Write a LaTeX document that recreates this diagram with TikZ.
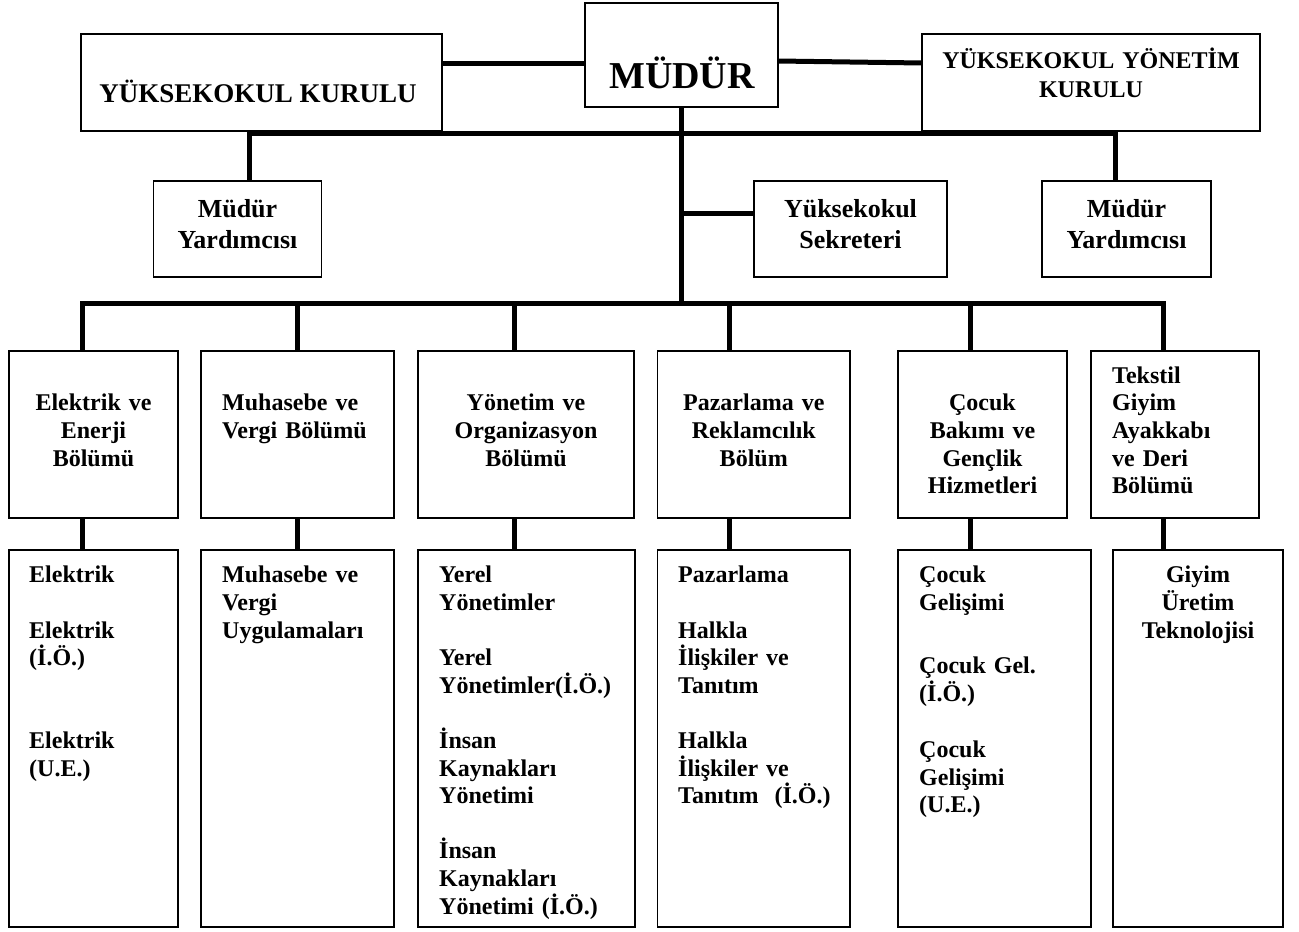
\documentclass[tikz,border=0pt]{standalone}
\usepackage{fontspec}
\setmainfont{Liberation Serif}
\usetikzlibrary{calc}

\newcommand{\bossfont}{\fontsize{38}{44}\selectfont\bfseries}
\newcommand{\kurfont}{\fontsize{27}{31}\selectfont\bfseries}
\newcommand{\midfont}{\fontsize{26}{31}\selectfont\bfseries}
\newcommand{\lowfont}{\fontsize{24}{27.6}\selectfont\bfseries}
\newcommand{\lnstrut}{\rule{0pt}{36pt}}

\begin{document}
\begin{tikzpicture}[x=1pt,y=-1pt,
  box/.style 2 args={draw, line width=1.6pt, inner sep=0pt, outer sep=0pt, minimum width=#1pt, minimum height=#2pt},
  link/.style={line width=5pt},
  ctxt/.style={inner sep=0pt, anchor=north, align=center, text width=#1, font=\lowfont},
  ltxt/.style={inner sep=0pt, anchor=north west, align=left, text width=#1, font=\lowfont}]
\useasboundingbox (0,0) rectangle (1299,932);

% top row
\node[box={193}{104}] (mudur) at (681.5,55) {};
\node[box={361}{97}] (yk) at (261.5,82.5) {};
\node[box={338}{97}] (yyk) at (1091,82.5) {};
\node[font=\bossfont, anchor=base, inner sep=0pt] (mudur-t) at (682,88) {MÜDÜR};
\node[font=\kurfont, anchor=base, inner sep=0pt] (yk-t) at (258,102) {YÜKSEKOKUL KURULU};
\node[ctxt=330pt, font=\fontsize{24}{29}\selectfont\bfseries] (yyk-t) at ($(yyk.north)+(0,-2)$) {\lnstrut YÜKSEKOKUL YÖNETİM\\KURULU};

% second row
\node[box={168}{96}] (my1) at (237.5,229) {};
\node[box={193}{96}] (sek) at (850.5,229) {};
\node[box={169}{96}] (my2) at (1126.5,229) {};
\node[ctxt=168pt, font=\midfont] (my1-t) at (my1.north) {\lnstrut Müdür\\Yardımcısı};
\node[ctxt=193pt, font=\midfont] (sek-t) at (sek.north) {\lnstrut Yüksekokul\\Sekreteri};
\node[ctxt=169pt, font=\midfont] (my2-t) at (my2.north) {\lnstrut Müdür\\Yardımcısı};

% departments
\node[box={169}{167}] (d1) at (93.5,434.5) {};
\node[box={193}{167}] (d2) at (297.5,434.5) {};
\node[box={216}{167}] (d3) at (526,434.5) {};
\node[box={192.5}{167}] (d4) at (753.75,434.5) {};
\node[box={169}{167}] (d5) at (982.5,434.5) {};
\node[box={168}{167}] (d6) at (1175,434.5) {};
\node[ctxt=169pt] (d1-t) at ($(d1.north)+(0,23.7)$) {\lnstrut Elektrik ve\\Enerji\\Bölümü};
\node[ltxt=170pt] (d2-t) at ($(d2.north west)+(21,23.7)$) {\lnstrut Muhasebe ve\\Vergi Bölümü};
\node[ctxt=216pt] (d3-t) at ($(d3.north)+(0,23.7)$) {\lnstrut Yönetim ve\\Organizasyon\\Bölümü};
\node[ctxt=192pt] (d4-t) at ($(d4.north)+(0,23.7)$) {\lnstrut Pazarlama ve\\Reklamcılık\\Bölüm};
\node[ctxt=169pt] (d5-t) at ($(d5.north)+(0,23.7)$) {\lnstrut Çocuk\\Bakımı ve\\Gençlik\\Hizmetleri};
\node[ltxt=145pt] (d6-t) at ($(d6.north west)+(21,-4)$) {\lnstrut Tekstil\\Giyim\\Ayakkabı\\ve Deri\\Bölümü};

% programmes
\node[box={169}{377}] (p1) at (93.5,738.5) {};
\node[box={193}{377}] (p2) at (297.5,738.5) {};
\node[box={217}{377}] (p3) at (526.5,738.5) {};
\node[box={192.5}{377}] (p4) at (753.75,738.5) {};
\node[box={193}{377}] (p5) at (994.5,738.5) {};
\node[box={170}{377}] (p6) at (1198,738.5) {};
\node[ltxt=145pt] (p1-t) at ($(p1.north west)+(20,-3.3)$) {\lnstrut Elektrik\\[27.6pt]Elektrik\\(İ.Ö.)\\[55.2pt]Elektrik\\(U.E.)};
\node[ltxt=170pt] (p2-t) at ($(p2.north west)+(21,-3.3)$) {\lnstrut Muhasebe ve\\Vergi\\Uygulamaları};
\node[ltxt=192pt] (p3-t) at ($(p3.north west)+(21,-3.3)$) {\lnstrut Yerel\\Yönetimler\\[27.6pt]Yerel\\Yönetimler(İ.Ö.)\\[27.6pt]İnsan\\Kaynakları\\Yönetimi\\[27.6pt]İnsan\\Kaynakları\\Yönetimi (İ.Ö.)};
\node[ltxt=170pt] (p4-t) at ($(p4.north west)+(20.5,-3.3)$) {\lnstrut Pazarlama\\[27.6pt]Halkla\\İlişkiler ve\\Tanıtım\\[27.6pt]Halkla\\İlişkiler ve\\Tanıtım~~(İ.Ö.)};
\node[ltxt=170pt] (p5-t) at ($(p5.north west)+(21,-3.3)$) {\lnstrut Çocuk\\Gelişimi\\[35.7pt]Çocuk Gel.\\(İ.Ö.)\\[28.7pt]Çocuk\\Gelişimi\\(U.E.)};
\node[ctxt=170pt] (p6-t) at ($(p6.north)+(0,-3.3)$) {\lnstrut Giyim\\Üretim\\Teknolojisi};

% links
\draw[link] ([yshift=19.5pt]yk.east) -- ([yshift=19.5pt]yk.east -| mudur.west);
\draw[link] ([yshift=-6pt]mudur.east) -- ([yshift=19.5pt]yyk.west);
\coordinate (u1) at (249,133);
\coordinate (u2) at (1115,133);
\draw[link] (u1 |- my1.north) -- (u1) -- (u2) -- (u2 |- my2.north);
\draw[link] ($(mudur.south |- sek.west)+(0,-16)$) -- ($(sek.west)+(0,-16)$);
\foreach \i/\bx in {1/82,2/297.5,3/514.5,4/729,5/970,6/1163}
  \coordinate (b\i) at (\bx,303);
\draw[link] (mudur.south) -- (mudur.south |- b1);
\draw[link] (b1 |- d1.north) -- (b1) -- (b6) -- (b6 |- d6.north);
\foreach \i in {2,...,5}
  \draw[link] (b\i) -- (b\i |- d\i.north);
\foreach \i in {1,...,6}
  \draw[link] (b\i |- d\i.south) -- (b\i |- p\i.north);
\end{tikzpicture}
\end{document}
